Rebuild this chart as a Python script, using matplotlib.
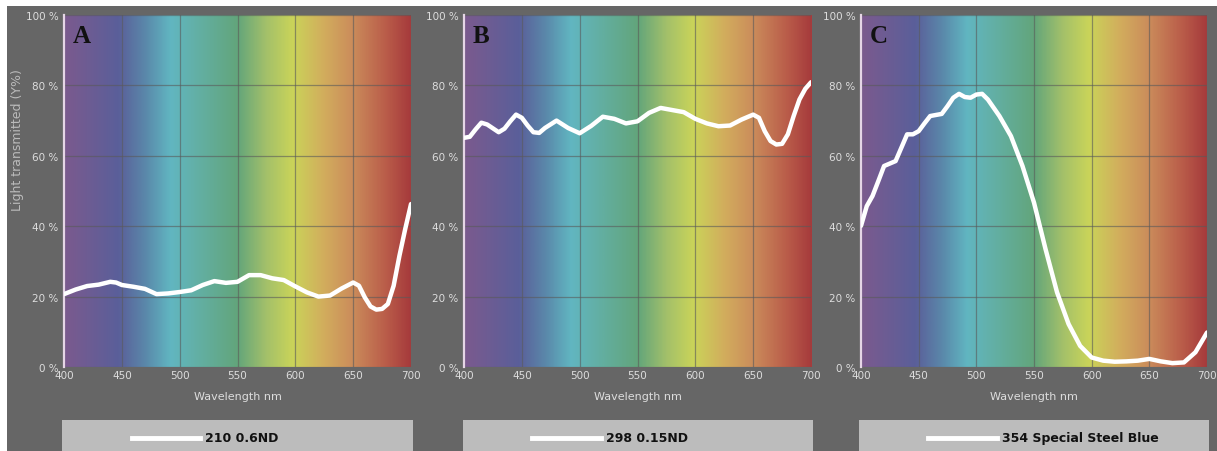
import matplotlib
matplotlib.use("Agg")
import matplotlib.pyplot as plt
import numpy as np
from matplotlib.colors import LinearSegmentedColormap
from matplotlib.patches import Rectangle

W, H = 1217, 452

# --- data ---
wl_a = [400, 410, 420, 430, 440, 445, 450, 460, 470, 480, 490, 500, 510, 520, 530,
        540, 550, 560, 570, 580, 590, 600, 610, 620, 630, 640, 650, 655, 660, 665,
        670, 675, 680, 685, 690, 695, 700]
val_a = [20.7, 22.0, 23.0, 23.4, 24.2, 24.0, 23.3, 22.8, 22.2, 20.7, 20.9, 21.3, 21.8,
         23.3, 24.4, 23.9, 24.2, 26.1, 26.1, 25.2, 24.7, 22.9, 21.2, 20.0, 20.3, 22.3,
         24.0, 23.1, 19.8, 17.2, 16.3, 16.5, 17.9, 23.1, 31.6, 39.2, 46.3]

wl_b = [400, 405, 410, 415, 420, 430, 435, 440, 445, 450, 455, 460, 465, 470, 480,
        490, 500, 510, 520, 530, 540, 550, 560, 570, 580, 590, 600, 610, 620, 630,
        640, 650, 655, 660, 665, 670, 675, 680, 685, 690, 695, 700]
val_b = [65.1, 65.4, 67.5, 69.4, 68.9, 66.7, 67.7, 69.8, 71.7, 70.8, 68.6, 66.7, 66.5,
         67.9, 70.0, 67.9, 66.4, 68.5, 71.1, 70.5, 69.2, 69.8, 72.2, 73.6, 73.0, 72.4,
         70.5, 69.2, 68.4, 68.6, 70.3, 71.7, 70.8, 67.0, 64.2, 63.2, 63.4, 66.1, 71.3,
         76.0, 79.0, 80.9]

wl_c = [400, 405, 410, 415, 420, 430, 435, 440, 445, 450, 455, 460, 470, 475, 480,
        485, 490, 495, 500, 505, 510, 520, 530, 540, 550, 560, 570, 580, 590, 600,
        610, 620, 630, 640, 650, 660, 670, 680, 690, 700]
val_c = [40.1, 45.7, 48.6, 52.8, 57.1, 58.5, 62.3, 66.1, 66.1, 67.0, 69.2, 71.3, 71.9,
         74.1, 76.5, 77.6, 76.7, 76.5, 77.4, 77.6, 76.0, 71.3, 65.6, 57.1, 46.7, 33.5,
         21.2, 12.2, 6.0, 2.7, 1.8, 1.5, 1.6, 1.8, 2.3, 1.6, 1.1, 1.3, 4.2, 9.8]

panel_letters = ["A", "B", "C"]
legend_labels = ["210 0.6ND", "298 0.15ND", "354 Special Steel Blue"]
x_ticks = [400, 450, 500, 550, 600, 650, 700]
y_ticks = [0, 20, 40, 60, 80, 100]

# spectrum background
stops = [(400, "#7b5a8e"), (447, "#5a5f9a"), (470, "#5a88aa"), (492, "#61b6c1"),
         (520, "#63ae9f"), (550, "#62a57b"), (575, "#a3c06a"), (598, "#cad459"),
         (625, "#d2ad5d"), (650, "#cb8c5b"), (680, "#b95b49"), (700, "#a63b3c")]
cmap = LinearSegmentedColormap.from_list(
    "spec", [((w - 400) / 300, c) for w, c in stops])

BG = "#666666"
TXT = "#dddddd"

fig = plt.figure(figsize=(W / 100, H / 100), dpi=100, facecolor="white")
fig.patches.append(Rectangle((7 / W, 0), 1 - 7 / W, 1 - 7 / H,
                             transform=fig.transFigure, facecolor=BG,
                             edgecolor="none", zorder=-10))


def px_axes(x0, y0, x1, y1):
    return fig.add_axes([x0 / W, 1 - y1 / H, (x1 - x0) / W, (y1 - y0) / H])


axes_px = [(64, 16, 411, 368), (464, 16, 811, 368), (861, 16, 1207, 368)]
legend_px = [(62, 421, 413, 452), (463, 421, 813, 452), (859, 421, 1209, 452)]
line_px = [(132, 200), (532, 601), (928, 997)]
series = [(wl_a, val_a), (wl_b, val_b), (wl_c, val_c)]

grad = np.linspace(0, 1, 600).reshape(1, -1)

for i, (box, (wl, val)) in enumerate(zip(axes_px, series)):
    ax = px_axes(*box)
    ax.imshow(grad, cmap=cmap, extent=[400, 700, 0, 100], aspect="auto",
              interpolation="bilinear", zorder=0)
    ax.set_xlim(400, 700)
    ax.set_ylim(0, 100)
    ax.set_xticks(x_ticks)
    ax.set_yticks(y_ticks)
    ax.set_yticklabels([f"{v} %" for v in y_ticks])
    ax.grid(True, color="#5a5a5a", linewidth=0.9, alpha=0.6, zorder=1)
    ax.tick_params(length=0, colors=TXT, labelsize=7.5, pad=2)
    ax.tick_params(axis="y", pad=4)
    for s in ["top", "right", "bottom"]:
        ax.spines[s].set_visible(False)
    ax.spines["left"].set_color("#e6d6e6")
    ax.spines["left"].set_linewidth(1.6)
    ax.set_xlabel("Wavelength nm", color=TXT, fontsize=8, labelpad=8)
    ax.plot(wl, val, color="white", linewidth=3.2, solid_joinstyle="round",
            solid_capstyle="round", zorder=3, clip_on=True)
    ax.text(0.025, 0.975, panel_letters[i], transform=ax.transAxes, ha="left",
            va="top", fontsize=18, fontweight="bold", family="Liberation Serif",
            color="#111111")

    # legend strip
    lx0, ly0, lx1, ly1 = legend_px[i]
    lax = px_axes(lx0, ly0, lx1, ly1)
    lax.set_facecolor("#bcbcbc")
    lax.set_xlim(lx0, lx1)
    lax.set_ylim(ly1, ly0)
    lax.set_xticks([])
    lax.set_yticks([])
    for s in lax.spines.values():
        s.set_visible(False)
    a, b = line_px[i]
    lax.plot([a, b], [439, 439], color="white", linewidth=3.5)
    lax.text(b + 5, 439, legend_labels[i], ha="left", va="center", fontsize=9,
             fontweight="bold", color="#111111")

fig.text(18 / W, 1 - 140 / H, "Light transmitted (Y%)", rotation=90,
         ha="center", va="center", color="#bbbbbb", fontsize=9)

fig.savefig("out.png", dpi=100, facecolor=fig.get_facecolor())
